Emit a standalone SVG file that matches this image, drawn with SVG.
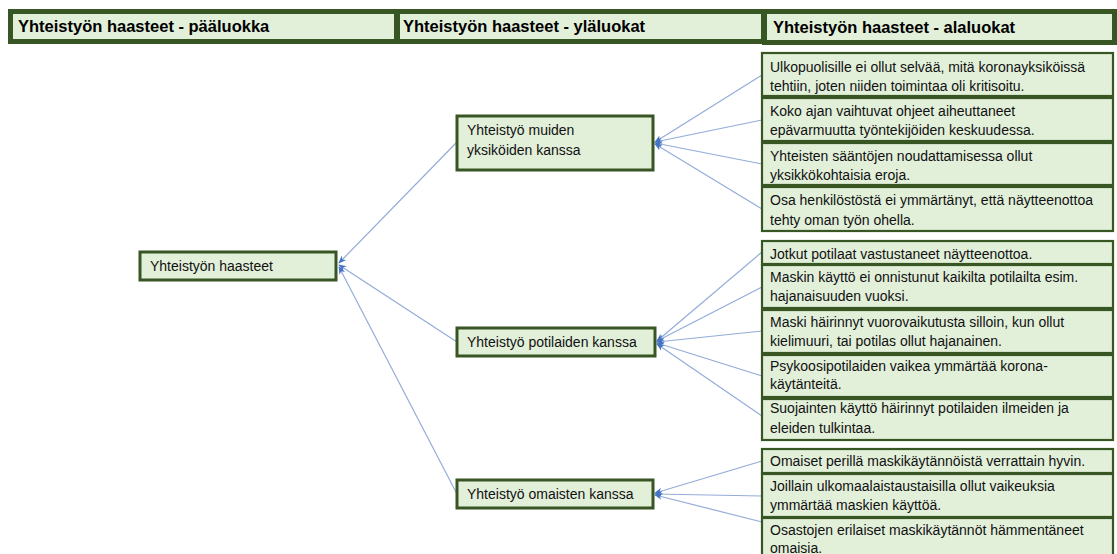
<svg xmlns="http://www.w3.org/2000/svg" width="1117" height="554" viewBox="0 0 1117 554">
<style>
.hdr{fill:#e2efd9;stroke:#385623;stroke-width:5}
.box{fill:#e2efd9;stroke:#385623;stroke-width:3}
.leaf{fill:#e2efd9;stroke:#385623;stroke-width:2.2}
.ht{font-family:"Liberation Sans",Arial,sans-serif;font-size:16.5px;font-weight:bold;fill:#000}
.t{font-family:"Liberation Sans",Arial,sans-serif;font-size:14px;fill:#111}
.c{stroke:#93acd9;stroke-width:1.2;fill:none;marker-end:url(#arr)}
</style>
<defs>
<marker id="arr" viewBox="0 0 10 10" refX="9" refY="5" markerWidth="8" markerHeight="8" orient="auto" markerUnits="userSpaceOnUse">
<path d="M0,1 L10,5 L0,9 L3,5 Z" fill="#4472c4"/>
</marker>
</defs>
<g id="headers">
<g id="h1"><rect class="hdr" x="10.5" y="11.5" width="386" height="30"/><text class="ht" x="18" y="32">Yhteistyön haasteet - pääluokka</text></g>
<g id="h2"><rect class="hdr" x="397.5" y="11.5" width="366" height="30"/><text class="ht" x="403" y="32">Yhteistyön haasteet - yläluokat</text></g>
<g id="h3"><rect class="hdr" x="764.5" y="11.5" width="350" height="31"/><text class="ht" x="773" y="33">Yhteistyön haasteet - alaluokat</text></g>
</g>
<g id="connectors">
<line class="c" x1="457" y1="142" x2="339" y2="263"/>
<line class="c" x1="457" y1="342" x2="339" y2="265"/>
<line class="c" x1="457" y1="494" x2="339" y2="267"/>
<line class="c" x1="762" y1="75" x2="655" y2="142"/>
<line class="c" x1="762" y1="120" x2="655" y2="142"/>
<line class="c" x1="762" y1="164" x2="655" y2="143"/>
<line class="c" x1="762" y1="209" x2="655" y2="144"/>
<line class="c" x1="762" y1="252" x2="657" y2="341"/>
<line class="c" x1="762" y1="287" x2="657" y2="341"/>
<line class="c" x1="762" y1="331" x2="657" y2="342"/>
<line class="c" x1="762" y1="376" x2="657" y2="343"/>
<line class="c" x1="762" y1="416" x2="657" y2="344"/>
<line class="c" x1="762" y1="461" x2="655" y2="493"/>
<line class="c" x1="762" y1="496" x2="655" y2="494"/>
<line class="c" x1="762" y1="522" x2="655" y2="495"/>
</g>
<g id="root"><rect class="box" x="140" y="252" width="196" height="28"/><text class="t" x="150" y="271">Yhteistyön haasteet</text></g>
<g id="n-muiden"><rect class="box" x="457" y="116" width="196" height="54"/><text class="t" x="467" y="135">Yhteistyö muiden</text><text class="t" x="467" y="155">yksiköiden kanssa</text></g>
<g id="n-potilaiden"><rect class="box" x="457" y="328" width="198" height="28"/><text class="t" x="467" y="347">Yhteistyö potilaiden kanssa</text></g>
<g id="n-omaisten"><rect class="box" x="457" y="480" width="196" height="28"/><text class="t" x="467" y="499">Yhteistyö omaisten kanssa</text></g>
<g id="l1"><rect class="leaf" x="762" y="53" width="351" height="43"/><text class="t" x="770" y="72">Ulkopuolisille ei ollut selvää, mitä koronayksiköissä</text><text class="t" x="770" y="91">tehtiin, joten niiden toimintaa oli kritisoitu.</text></g>
<g id="l2"><rect class="leaf" x="762" y="98" width="351" height="43"/><text class="t" x="770" y="116">Koko ajan vaihtuvat ohjeet aiheuttaneet</text><text class="t" x="770" y="135">epävarmuutta työntekijöiden keskuudessa.</text></g>
<g id="l3"><rect class="leaf" x="762" y="143" width="351" height="42"/><text class="t" x="770" y="161">Yhteisten sääntöjen noudattamisessa ollut</text><text class="t" x="770" y="180">yksikkökohtaisia eroja.</text></g>
<g id="l4"><rect class="leaf" x="762" y="187" width="351" height="44"/><text class="t" x="770" y="205">Osa henkilöstöstä ei ymmärtänyt, että näytteenottoa</text><text class="t" x="770" y="225">tehty oman työn ohella.</text></g>
<g id="l5"><rect class="leaf" x="762" y="241" width="351" height="23"/><text class="t" x="770" y="259">Jotkut potilaat vastustaneet näytteenottoa.</text></g>
<g id="l6"><rect class="leaf" x="762" y="265" width="351" height="43"/><text class="t" x="770" y="282">Maskin käyttö ei onnistunut kaikilta potilailta esim.</text><text class="t" x="770" y="301">hajanaisuuden vuoksi.</text></g>
<g id="l7"><rect class="leaf" x="762" y="310" width="351" height="43"/><text class="t" x="770" y="327">Maski häirinnyt vuorovaikutusta silloin, kun ollut</text><text class="t" x="770" y="346">kielimuuri, tai potilas ollut hajanainen.</text></g>
<g id="l8"><rect class="leaf" x="762" y="355" width="351" height="42"/><text class="t" x="770" y="371">Psykoosipotilaiden vaikea ymmärtää korona-</text><text class="t" x="770" y="389">käytänteitä.</text></g>
<g id="l9"><rect class="leaf" x="762" y="399" width="351" height="41"/><text class="t" x="770" y="413">Suojainten käyttö häirinnyt potilaiden ilmeiden ja</text><text class="t" x="770" y="433">eleiden tulkintaa.</text></g>
<g id="l10"><rect class="leaf" x="762" y="449" width="351" height="24"/><text class="t" x="770" y="466">Omaiset perillä maskikäytännöistä verrattain hyvin.</text></g>
<g id="l11"><rect class="leaf" x="762" y="474" width="351" height="43"/><text class="t" x="770" y="491">Joillain ulkomaalaistaustaisilla ollut vaikeuksia</text><text class="t" x="770" y="510">ymmärtää maskien käyttöä.</text></g>
<g id="l12"><rect class="leaf" x="762" y="518" width="351" height="40"/><text class="t" x="770" y="535">Osastojen erilaiset maskikäytännöt hämmentäneet</text><text class="t" x="770" y="553">omaisia.</text></g>
</svg>
